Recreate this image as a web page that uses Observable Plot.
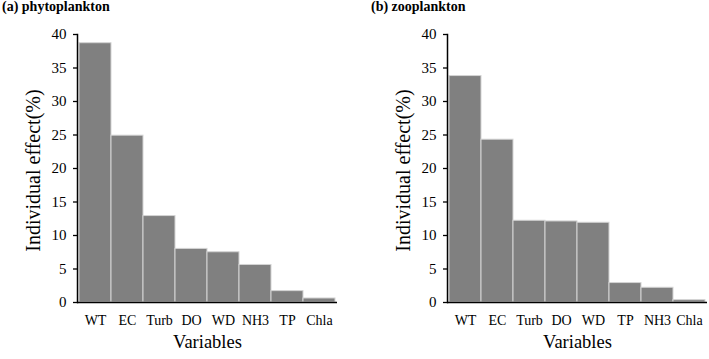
<!DOCTYPE html>
<html>
<head>
<meta charset="utf-8">
<script src="https://cdn.jsdelivr.net/npm/d3@7"></script>
<script src="https://cdn.jsdelivr.net/npm/@observablehq/plot@0.6"></script>
<style>
  body { margin: 0; background: #fff; }
  #wrap { position: relative; width: 709px; height: 359px; font-family: "Liberation Serif", "Times New Roman", serif; }
  .panel { position: absolute; top: 0; }
  .title { position: absolute; top: 0; font: bold 14px "Liberation Serif", "Times New Roman", serif; line-height: 14px; color: #000; white-space: nowrap; }
</style>
</head>
<body>
<div id="wrap"></div>
<script>
const titleA = "(a) phytoplankton";
const titleB = "(b) zooplankton";
const categoriesA = ["WT", "EC", "Turb", "DO", "WD", "NH3", "TP", "Chla"];
const valuesA = [38.7, 24.9, 12.9, 8.0, 7.5, 5.6, 1.7, 0.6];
const categoriesB = ["WT", "EC", "Turb", "DO", "WD", "TP", "NH3", "Chla"];
const valuesB = [33.8, 24.3, 12.2, 12.1, 11.9, 2.9, 2.2, 0.35];
const yTicks = [0, 5, 10, 15, 20, 25, 30, 35, 40];
const yLabel = "Individual effect(%)";
const xLabel = "Variables";

function panel(cats, vals, opts) {
  const data = cats.map((c, i) => ({cat: c, val: vals[i]}));
  return Plot.plot({
    width: opts.width,
    height: 359,
    marginTop: 34,
    marginBottom: 57,
    marginLeft: opts.marginLeft,
    marginRight: opts.marginRight,
    style: {fontFamily: '"Liberation Serif", "Times New Roman", serif', color: "#000", background: "transparent", overflow: "visible"},
    x: {type: "band", domain: cats, padding: 0},
    y: {domain: [0, 40]},
    marks: [
      Plot.barY(data, {x: "cat", y: "val", fill: "#808080", stroke: "#d4d4d4", strokeWidth: 1}),
      Plot.axisY({ticks: yTicks, tickSize: 4, tickPadding: 7, fontSize: 15, label: null, strokeWidth: 1.3}),
      Plot.axisX({tickSize: 0, tickPadding: 13, fontSize: 14, label: null}),
      Plot.frame({anchor: "left", stroke: "#000", strokeWidth: 1.5}),
      Plot.ruleY([0], {stroke: "#000", strokeWidth: 1.5}),
      Plot.text([yLabel], {frameAnchor: "left", textAnchor: "middle", lineAnchor: "middle", rotate: -90, dx: -44, dy: 2, fontSize: 20}),
      Plot.text([xLabel], {frameAnchor: "bottom", textAnchor: "middle", dy: 40, fontSize: 18.5, lineAnchor: "middle"})
    ]
  });
}

const wrap = document.getElementById("wrap");

const pa = document.createElement("div");
pa.className = "panel"; pa.style.left = "0px";
pa.appendChild(panel(categoriesA, valuesA, {width: 354, marginLeft: 77, marginRight: 17}));
wrap.appendChild(pa);

const pb = document.createElement("div");
pb.className = "panel"; pb.style.left = "354px";
pb.appendChild(panel(categoriesB, valuesB, {width: 355, marginLeft: 93, marginRight: 2}));
wrap.appendChild(pb);

const ta = document.createElement("div");
ta.className = "title"; ta.style.left = "2px"; ta.textContent = titleA;
wrap.appendChild(ta);

const tb = document.createElement("div");
tb.className = "title"; tb.style.left = "371px"; tb.textContent = titleB;
wrap.appendChild(tb);
</script>
</body>
</html>
